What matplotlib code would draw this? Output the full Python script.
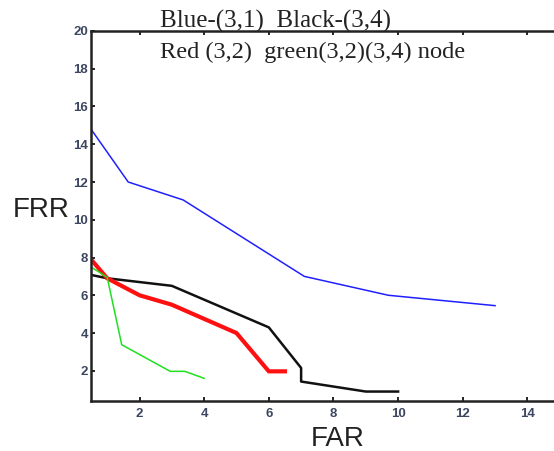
import numpy as np
import matplotlib
matplotlib.use('Agg')
import matplotlib.pyplot as plt

# FAR / FRR curves
blue_x = [0.5, 1.65, 3.35, 7.1, 9.7, 13.0]
blue_y = [14.8, 12.0, 11.05, 7.0, 6.0, 5.45]

black_x = [0.5, 1.0, 3.0, 6.0, 7.0, 7.0, 9.0, 10.0]
black_y = [7.08, 6.9, 6.5, 4.3, 2.15, 1.43, 0.9, 0.9]

red_x = [0.5, 1.0, 2.0, 3.0, 5.0, 6.0, 6.5]
red_y = [7.9, 6.9, 6.0, 5.5, 4.0, 1.97, 1.97]

green_x = [0.5, 1.0, 1.45, 2.95, 3.4, 4.0]
green_y = [7.5, 6.95, 3.38, 1.97, 1.97, 1.6]

xticks = [2, 4, 6, 8, 10, 12, 14]
yticks = [2, 4, 6, 8, 10, 12, 14, 16, 18, 20]

fig = plt.figure(figsize=(5.54, 4.51), dpi=100)
ax = fig.add_axes([0.1643, 0.1109, 0.846, 0.8204])

ax.plot(blue_x, blue_y, color='#2020ff', lw=1.1)
ax.plot(black_x, black_y, color='#111111', lw=1.8)
ax.plot(red_x, red_y, color='#ff1010', lw=3.0)
ax.plot(green_x, green_y, color='#20e020', lw=1.1)

ax.set_xlim(0.5, 15)
ax.set_ylim(0.4, 20)
ax.set_xticks(xticks)
ax.set_yticks(yticks)
ax.tick_params(direction='in', top=True, right=False, length=3, width=1.2,
               labelsize=9.5, labelcolor='#3c4660', pad=2)
ax.tick_params(axis='x', pad=5)
for lab in ax.get_xticklabels() + ax.get_yticklabels():
    lab.set_fontfamily('Liberation Sans')
    lab.set_fontweight('bold')
for sp in ax.spines.values():
    sp.set_linewidth(1.8)
    sp.set_color('#222222')
ax.spines['right'].set_visible(False)

fig.text(0.289, 0.938, 'Blue-(3,1)  Black-(3,4)', ha='left', va='baseline',
         fontsize=18, family='Liberation Serif', color='#222222')
fig.text(0.289, 0.872, 'Red (3,2)  green(3,2)(3,4) node', ha='left', va='baseline',
         fontsize=17.6, family='Liberation Serif', color='#222222')
fig.text(0.023, 0.519, 'FRR', ha='left', va='baseline', fontsize=20,
         family='Liberation Sans', color='#222222')
fig.text(0.61, 0.011, 'FAR', ha='center', va='baseline', fontsize=20,
         family='Liberation Sans', color='#222222')

fig.savefig('out.png', dpi=100)
